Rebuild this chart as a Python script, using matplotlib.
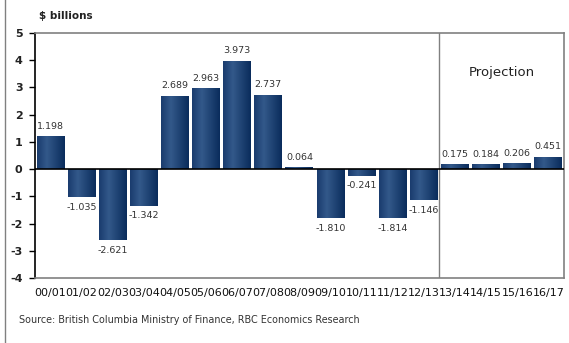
import matplotlib
matplotlib.use("Agg")
import matplotlib.pyplot as plt
import numpy as np
from matplotlib.colors import LinearSegmentedColormap

YEARS = ["00/01", "01/02", "02/03", "03/04", "04/05", "05/06", "06/07", "07/08",
         "08/09", "09/10", "10/11", "11/12", "12/13", "13/14", "14/15", "15/16", "16/17"]
BALANCE = [1.198, -1.035, -2.621, -1.342, 2.689, 2.963, 3.973, 2.737,
           0.064, -1.810, -0.241, -1.814, -1.146, 0.175, 0.184, 0.206, 0.451]
N_ACTUAL = 13  # bars before the projection divider

plt.rcParams.update({"font.family": "DejaVu Sans"})

fig = plt.figure(figsize=(5.69, 3.43), dpi=100)
ax = fig.add_axes([0.0615, 0.1895, 0.9295, 0.7145])

x = np.arange(len(YEARS))
bars = ax.bar(x, BALANCE, width=0.9, color="#1d3f6e", zorder=2)

# horizontal shading on each bar
cmap = LinearSegmentedColormap.from_list(
    "navy", [(0, "#1a3c6e"), (0.35, "#33598a"), (1, "#0a2c5c")])
grad = np.linspace(0, 1, 64).reshape(1, -1)
for b in bars:
    x0, y0 = b.get_x(), b.get_y()
    w, h = b.get_width(), b.get_height()
    im = ax.imshow(grad, cmap=cmap, aspect="auto", zorder=3,
                   extent=[x0, x0 + w, min(y0, y0 + h), max(y0, y0 + h)])
    im.set_clip_path(b)

for xi, v in zip(x, BALANCE):
    if v >= 0:
        ax.text(xi, v + 0.2, f"{v:.3f}", ha="center", va="bottom",
                fontsize=6.8, color="#333333")
    else:
        ax.text(xi, v - 0.2, f"{v:.3f}", ha="center", va="top",
                fontsize=6.8, color="#333333")

ax.set_xlim(-0.5, len(YEARS) - 0.5)
ax.set_ylim(-4, 5)
ax.set_yticks(range(-4, 6))
ax.set_yticklabels([str(t) for t in range(-4, 6)], fontsize=8, fontweight="bold",
                   color="#222222")
ax.set_xticks(x)
ax.set_xticklabels(YEARS, fontsize=8, color="#111111")
ax.tick_params(axis="x", length=0, pad=7)
ax.tick_params(axis="y", length=4, width=1, direction="out", pad=5)

ax.axhline(0, color="black", linewidth=1.2, zorder=4)
ax.axvline(N_ACTUAL - 0.5, color="#808080", linewidth=1, zorder=1)
ax.text((N_ACTUAL - 0.5 + len(YEARS) - 0.5) / 2, 3.55, "Projection",
        ha="center", va="center", fontsize=9.5, color="#222222")

ax.spines["left"].set_color("black")
ax.spines["left"].set_linewidth(1.2)
for s in ("top", "right", "bottom"):
    ax.spines[s].set_color("#808080")
    ax.spines[s].set_linewidth(1.2)

fig.text(39 / 569, 1 - 16 / 343, "$ billions", fontsize=7.5, fontweight="bold",
         color="#222222", ha="left", va="center")
fig.text(19 / 569, 1 - 320 / 343,
         "Source: British Columbia Ministry of Finance, RBC Economics Research",
         fontsize=6.9, color="#333333", ha="left", va="center")
fig.add_artist(plt.Line2D([5 / 569, 5 / 569], [0, 1], color="#808080", linewidth=1))

fig.savefig("out.png", dpi=100)
